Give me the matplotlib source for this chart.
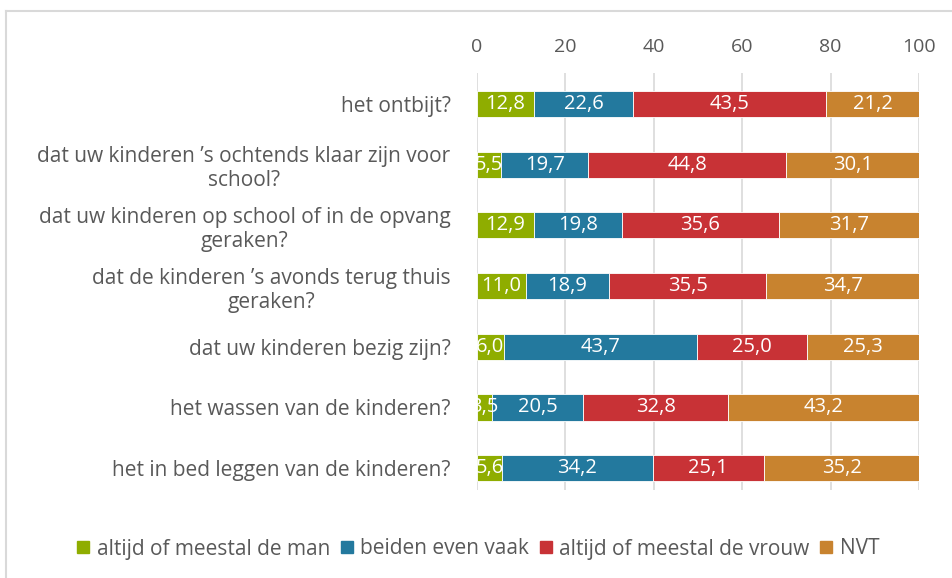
import matplotlib
matplotlib.use("Agg")
import matplotlib.pyplot as plt
import numpy as np
from matplotlib.lines import Line2D

plt.rcParams['font.family'] = ['Open Sans', 'DejaVu Sans']

categories = [
    "het ontbijt?",
    "dat uw kinderen \u2019s ochtends klaar zijn voor\nschool?",
    "dat uw kinderen op school of in de opvang\ngeraken?",
    "dat de kinderen \u2019s avonds terug thuis\ngeraken?",
    "dat uw kinderen bezig zijn?",
    "het wassen van de kinderen?",
    "het in bed leggen van de kinderen?",
]
series_names = ["altijd of meestal de man", "beiden even vaak",
                "altijd of meestal de vrouw", "NVT"]
man = [12.8, 5.5, 12.9, 11.0, 6.0, 3.5, 5.6]
beiden = [22.6, 19.7, 19.8, 18.9, 43.7, 20.5, 34.2]
vrouw = [43.5, 44.8, 35.6, 35.5, 25.0, 32.8, 25.1]
nvt = [21.2, 30.1, 31.7, 34.7, 25.3, 43.2, 35.2]
ticks = [0, 20, 40, 60, 80, 100]

colors = ["#8fad00", "#23799e", "#c83236", "#c8832f"]
text_col = '#595959'

fig = plt.figure(figsize=(9.52, 5.78), dpi=100)
ax = fig.add_axes([477/952, 1-490/578, (919-477)/952, (490-73)/578])

y = np.arange(len(categories))
left = np.zeros(len(categories))
for vals, col, name in zip([man, beiden, vrouw, nvt], colors, series_names):
    vals = np.array(vals)
    ax.barh(y, vals, left=left, height=0.43, color=col, label=name,
            edgecolor='white', linewidth=0.6, zorder=3)
    for yi, l, v in zip(y, left, vals):
        ax.text(l + v/2, yi, f"{v:.1f}".replace('.', ','), ha='center', va='center',
                color='white', fontsize=14.5, clip_on=True, zorder=4)
    left = left + vals

ax.set_xlim(0, 100)
ax.set_ylim(6.36, -0.51)
ax.set_xticks(ticks)
ax.xaxis.tick_top()
ax.tick_params(axis='x', length=0, pad=12, labelsize=14, colors=text_col)
ax.set_yticks(y)
ax.set_yticklabels(categories, fontsize=15, color=text_col)
ax.tick_params(axis='y', length=0, pad=19)
for t in ax.get_yticklabels():
    t.set_multialignment('center')
ax.grid(axis='x', color='#d9d9d9', linewidth=1.2, zorder=0)
for s in ax.spines.values():
    s.set_visible(False)

handles = [Line2D([0], [0], marker='s', linestyle='none', markersize=9,
                  markerfacecolor=c, markeredgecolor=c) for c in colors]
fig.legend(handles, series_names, loc='center', bbox_to_anchor=(0.5, 1-549/578),
           ncol=4, frameon=False, fontsize=15, handletextpad=0.15,
           columnspacing=0.3, handlelength=1.0, labelcolor=text_col)

# chart border
fig.add_artist(Line2D([6/952, 6/952], [0, 1-11/578], color='#d9d9d9', linewidth=1.5))
fig.add_artist(Line2D([6/952, 1], [1-11/578, 1-11/578], color='#d9d9d9', linewidth=1.5))

fig.savefig("out.png", dpi=100)
